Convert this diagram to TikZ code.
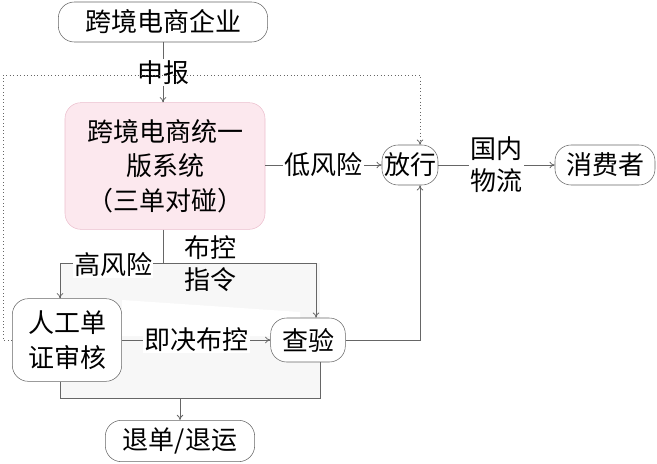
\documentclass[tikz,border=0pt]{standalone}
\usepackage{fontspec}
\setmainfont{Noto Sans CJK SC}
\usetikzlibrary{arrows.meta}
\definecolor{ln}{HTML}{666666}
\begin{document}
\begin{tikzpicture}[x=0.75pt,y=-0.75pt,
  box/.style={draw=ln,fill=white,rounded corners=12pt,align=center,inner sep=0pt,font=\fontsize{19.5pt}{26pt}\selectfont},
  lab/.style={fill=white,inner sep=1pt,align=center,font=\fontsize{19.5pt}{24pt}\selectfont},
  arr/.style={draw=ln,line width=0.6pt,-{To[length=4pt,width=5pt]}},
  ln/.style={draw=ln,line width=0.6pt}]
\useasboundingbox (0,0) rectangle (657,464);
\fill[black!3] (60,263) rectangle (320,398);
\fill[white] (122,300) -- (300,312) -- (300,336) -- (122,336) -- cycle;
\node[box,minimum width=157pt,minimum height=30pt] (ent) at (163,22) {跨境电商企业};
\node[box,fill={rgb,255:red,252;green,232;blue,238},draw={rgb,255:red,235;green,190;blue,205},minimum width=150pt,minimum height=95pt] (sys) at (165,166) {跨境电商统一\\版系统\\（三单对碰）};
\node[box,minimum width=42pt,minimum height=30pt] (fx) at (410,165) {放行};
\node[box,minimum width=75pt,minimum height=30pt] (xf) at (605,165) {消费者};
\node[box,minimum width=82pt,minimum height=62pt] (rg) at (67,340) {人工单\\证审核};
\node[box,minimum width=56pt,minimum height=33pt] (cy) at (308,340) {查验};
\node[box,minimum width=112pt,minimum height=31pt] (td) at (180,441) {退单/退运};
\coordinate (sb) at (163,263);
\coordinate (ld) at (60,263);
\coordinate (rd) at (316,263);
\coordinate (bl) at (60,398);
\coordinate (br) at (320,398);
\coordinate (bm) at (180,398);
\coordinate (d1) at (3,340);
\coordinate (d2) at (3,75);
\coordinate (d3) at (420,75);
\coordinate (c1) at (420,340);
\draw[arr] (ent.south) -- node[lab]{申报} (ent.south|-sys.north);
\draw[arr,dotted] (rg.west) -- (d1) -- (d2) -- (d3) -- (d3|-fx.north);
\draw[arr] (sys.east|-fx) -- node[lab]{低风险} (fx.west);
\draw[arr] (fx.east) -- node[lab]{国内\\物流} (xf.west);
\draw[ln] (sys.south-|sb) -- (sb);
\draw[arr] (sb) -- (ld) -- (ld|-rg.north);
\draw[arr] (sb) -- (rd) -- (rd|-cy.north);
\node[lab] at (113,265) {高风险};
\node[lab,fill=none] at (210,264) {布控\\指令};
\draw[arr] (rg.east) -- node[lab]{即决布控} (cy.west);
\draw[arr] (cy.east) -- (c1) -- (fx.south-|c1);
\draw[ln] (rg.south-|bl) -- (bl) -- (br) -- (br|-cy.south);
\draw[arr] (bm) -- (td.north-|bm);
\end{tikzpicture}
\end{document}
